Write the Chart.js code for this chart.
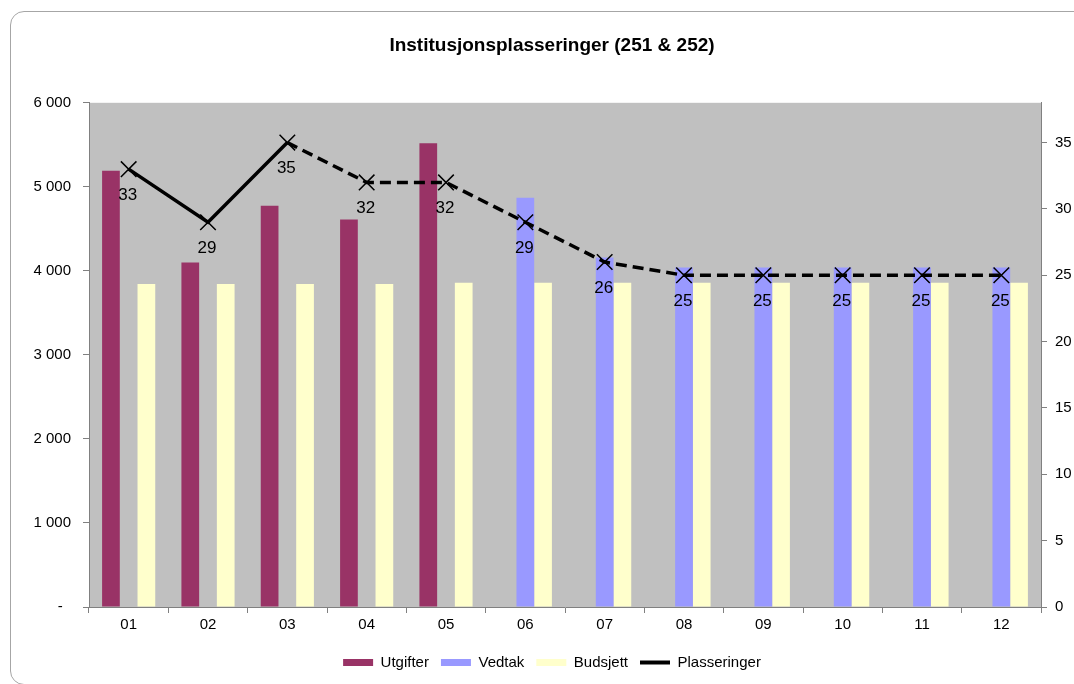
<!DOCTYPE html>
<html>
<head>
<meta charset="utf-8">
<script src="https://cdn.jsdelivr.net/npm/chart.js@4"></script>
<style>
  html, body { margin: 0; padding: 0; background: #fff; overflow: hidden; }
  #frame { position: absolute; left: 10px; top: 11px; width: 1100px; height: 672px;
           border: 1px solid #a6a6a6; border-radius: 14px; }
  #chart { position: absolute; left: 0; top: 0; }
</style>
</head>
<body>
<div id="frame"></div>
<canvas id="chart" width="1074" height="684"></canvas>
<script>
// Data
var months = ['01', '02', '03', '04', '05', '06', '07', '08', '09', '10', '11', '12'];
var utgifter = [5190, 4100, 4775, 4610, 5520, null, null, null, null, null, null, null];
var vedtak = [null, null, null, null, null, 4870, 4160, 4040, 4040, 4040, 4040, 4040];
var budsjett = [3845, 3845, 3845, 3845, 3860, 3860, 3860, 3860, 3860, 3860, 3860, 3860];
var plasseringer = [33, 29, 35, 32, 32, 29, 26, 25, 25, 25, 25, 25];
var leftTicks = [0, 1000, 2000, 3000, 4000, 5000, 6000];
var rightTicks = [0, 5, 10, 15, 20, 25, 30, 35];
var solidUntil = 2; // line is solid for 01-03, dashed afterwards

var FONT = 'Arial, "Liberation Sans", sans-serif';

function spaced(v) {
    if (v === 0) return '-  ';
    return String(v).replace(/\B(?=(\d{3})+(?!\d))/g, ' ');
}

// grey plot background
var plotBg = {
    id: 'plotBg',
    beforeDraw: function (chart) {
        var a = chart.chartArea, ctx = chart.ctx;
        ctx.save();
        ctx.fillStyle = '#c0c0c0';
        ctx.fillRect(a.left, a.top, a.right - a.left, a.bottom - a.top);
        ctx.restore();
    }
};

// value labels under the line points
var pointLabels = {
    id: 'pointLabels',
    afterDatasetsDraw: function (chart) {
        var ctx = chart.ctx;
        var meta = chart.getDatasetMeta(3);
        ctx.save();
        ctx.font = '17px ' + FONT;
        ctx.fillStyle = '#000';
        ctx.textAlign = 'center';
        ctx.textBaseline = 'middle';
        meta.data.forEach(function (pt, i) {
            ctx.fillText(String(plasseringer[i]), pt.x - 1, pt.y + 26);
        });
        ctx.restore();
    }
};

var ctx = document.getElementById('chart').getContext('2d');
new Chart(ctx, {
    type: 'bar',
    data: {
        labels: months,
        datasets: [
            { label: 'Utgifter', data: utgifter, backgroundColor: '#993366', yAxisID: 'y', order: 1 },
            { label: 'Vedtak', data: vedtak, backgroundColor: '#9999ff', yAxisID: 'y', order: 1 },
            { label: 'Budsjett', data: budsjett, backgroundColor: '#ffffcc', yAxisID: 'y', order: 1 },
            {
                type: 'line',
                label: 'Plasseringer',
                data: plasseringer,
                yAxisID: 'y1',
                order: 0,
                borderColor: '#000',
                backgroundColor: '#000',
                borderWidth: 3.5,
                pointStyle: 'crossRot',
                pointRadius: 11,
                pointBorderWidth: 1.5,
                pointBorderColor: '#000',
                tension: 0,
                segment: {
                    borderDash: function (c) { return c.p0DataIndex >= solidUntil ? [11, 6] : undefined; }
                }
            }
        ]
    },
    options: {
        responsive: false,
        animation: false,
        devicePixelRatio: 1,
        layout: { padding: { left: 30, right: 0, top: 0, bottom: 4 } },
        datasets: {
            bar: { barPercentage: 1, categoryPercentage: 0.67 }
        },
        plugins: {
            title: {
                display: true,
                text: 'Institusjonsplasseringer (251 & 252)',
                color: '#000',
                font: { family: FONT, size: 19, weight: 'bold' },
                padding: { top: 34, bottom: 46 }
            },
            legend: {
                position: 'bottom',
                labels: {
                    color: '#000',
                    font: { family: FONT, size: 15 },
                    usePointStyle: true,
                    pointStyleWidth: 30,
                    boxHeight: 7,
                    padding: 12,
                    sort: function (a, b) { return a.datasetIndex - b.datasetIndex; },
                    generateLabels: function (chart) {
                        var items = Chart.defaults.plugins.legend.labels.generateLabels(chart);
                        items.forEach(function (it) {
                            if (it.datasetIndex === 3) {
                                it.pointStyle = 'line';
                                it.strokeStyle = '#000';
                                it.lineWidth = 4;
                                it.lineDash = [];
                            } else {
                                it.pointStyle = 'rect';
                                it.lineWidth = 0;
                            }
                        });
                        return items;
                    }
                }
            },
            tooltip: { enabled: false }
        },
        scales: {
            x: {
                afterFit: function (s) { s.height = 36; },
                grid: { drawOnChartArea: false, offset: true, tickLength: 6, color: '#808080' },
                border: { color: '#808080' },
                ticks: { color: '#000', font: { family: FONT, size: 15 }, padding: 3 }
            },
            y: {
                position: 'left',
                min: 0,
                max: 6000,
                afterFit: function (s) { s.width = 59; },
                afterBuildTicks: function (s) { s.ticks = leftTicks.map(function (v) { return { value: v }; }); },
                grid: { drawOnChartArea: false, tickLength: 6, color: '#808080' },
                border: { color: '#808080' },
                ticks: {
                    color: '#000',
                    font: { family: FONT, size: 15 },
                    padding: 12,
                    callback: function (v) { return spaced(v); }
                }
            },
            y1: {
                position: 'right',
                min: 0,
                max: 38,
                afterFit: function (s) { s.width = 33; },
                afterBuildTicks: function (s) { s.ticks = rightTicks.map(function (v) { return { value: v }; }); },
                grid: { drawOnChartArea: false, tickLength: 6, color: '#808080' },
                border: { color: '#808080' },
                ticks: { color: '#000', font: { family: FONT, size: 15 }, padding: 8 }
            }
        }
    },
    plugins: [plotBg, pointLabels]
});
</script>
</body>
</html>
